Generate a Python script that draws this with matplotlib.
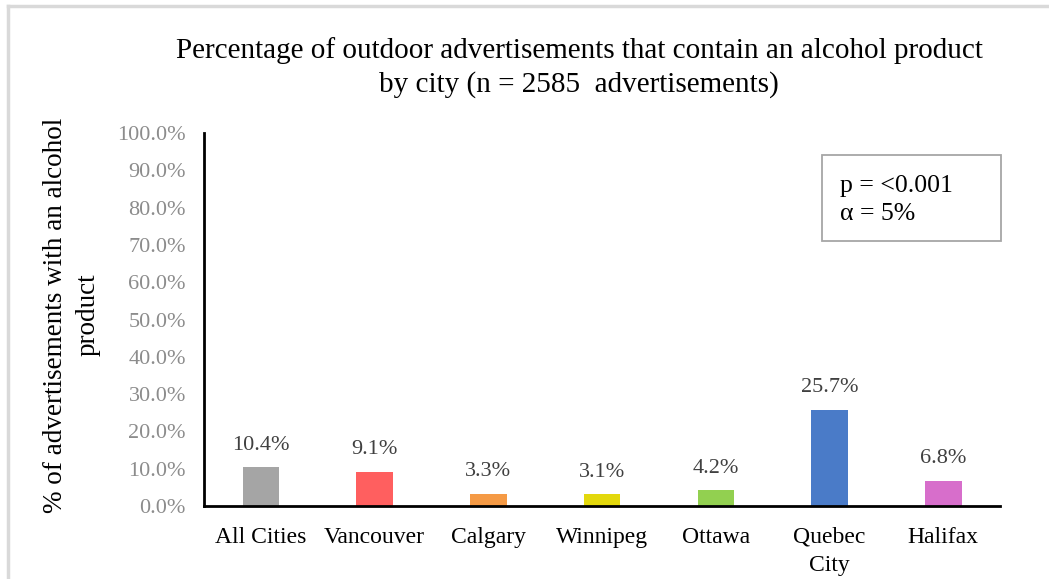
import matplotlib.pyplot as plt
from matplotlib.lines import Line2D
from matplotlib.patches import Rectangle
from matplotlib.ticker import PercentFormatter

cities = ["All Cities", "Vancouver", "Calgary", "Winnipeg", "Ottawa", "Quebec\nCity", "Halifax"]
pct_alcohol = [10.4, 9.1, 3.3, 3.1, 4.2, 25.7, 6.8]
bar_colors = ["#A5A5A5", "#FF5F5F", "#F59A45", "#E3D80C", "#92D050", "#4A7BC8", "#D76ECB"]
y_ticks = [0, 10, 20, 30, 40, 50, 60, 70, 80, 90, 100]

plt.rcParams["font.family"] = ["Liberation Serif", "DejaVu Serif"]

fig = plt.figure(figsize=(10.49, 5.79), dpi=100)
ax = fig.add_axes([0.1945, 0.126, 0.759, 0.644])

x = range(len(cities))
ax.bar(x, pct_alcohol, width=0.32, color=bar_colors)
for xi, v in zip(x, pct_alcohol):
    ax.annotate(f"{v:.1f}%", (xi, v), xytext=(0, 16), textcoords="offset points",
                ha="center", va="center", fontsize=16, color="#404040")

ax.set_xlim(-0.5, len(cities) - 0.5)
ax.set_ylim(0, 100)
ax.set_yticks(y_ticks)
ax.yaxis.set_major_formatter(PercentFormatter(decimals=1))
ax.set_xticks(list(x))
ax.set_xticklabels(cities, fontsize=17, color="black", linespacing=1.45)
ax.tick_params(axis="x", length=0, pad=15)
ax.tick_params(axis="y", length=0, pad=13, labelsize=16, labelcolor="#8C8C8C")

for side in ["top", "right"]:
    ax.spines[side].set_visible(False)
ax.spines["left"].set_linewidth(2)
ax.spines["bottom"].set_linewidth(2)

fig.text(0.068, 0.456, "% of advertisements with an alcohol\nproduct", rotation=90,
         ha="center", va="center", fontsize=19.5, linespacing=1.4, multialignment="center")

fig.text(0.552, 0.883, "Percentage of outdoor advertisements that contain an alcohol product\n"
         "by city (n = 2585  advertisements)", ha="center", va="center", fontsize=21,
         linespacing=1.35)

# stats box
ax.add_patch(Rectangle((0.776, 0.710), 0.225, 0.231, transform=ax.transAxes,
                       fc="white", ec="#A6A6A6", lw=1.3, clip_on=False))
ax.text(0.799, 0.858, "p = <0.001", transform=ax.transAxes, fontsize=18.5,
        va="center", ha="left")
ax.text(0.799, 0.783, "\u03b1 = 5%", transform=ax.transAxes, fontsize=18.5,
        va="center", ha="left")

# light frame along the top and left edges
fig.add_artist(Line2D([0.008, 0.008], [0.0, 0.990], transform=fig.transFigure,
                      color="#D9D9D9", lw=2.5))
fig.add_artist(Line2D([0.008, 1.0], [0.990, 0.990], transform=fig.transFigure,
                      color="#D9D9D9", lw=2.5))

fig.savefig("out.png", dpi=100)
